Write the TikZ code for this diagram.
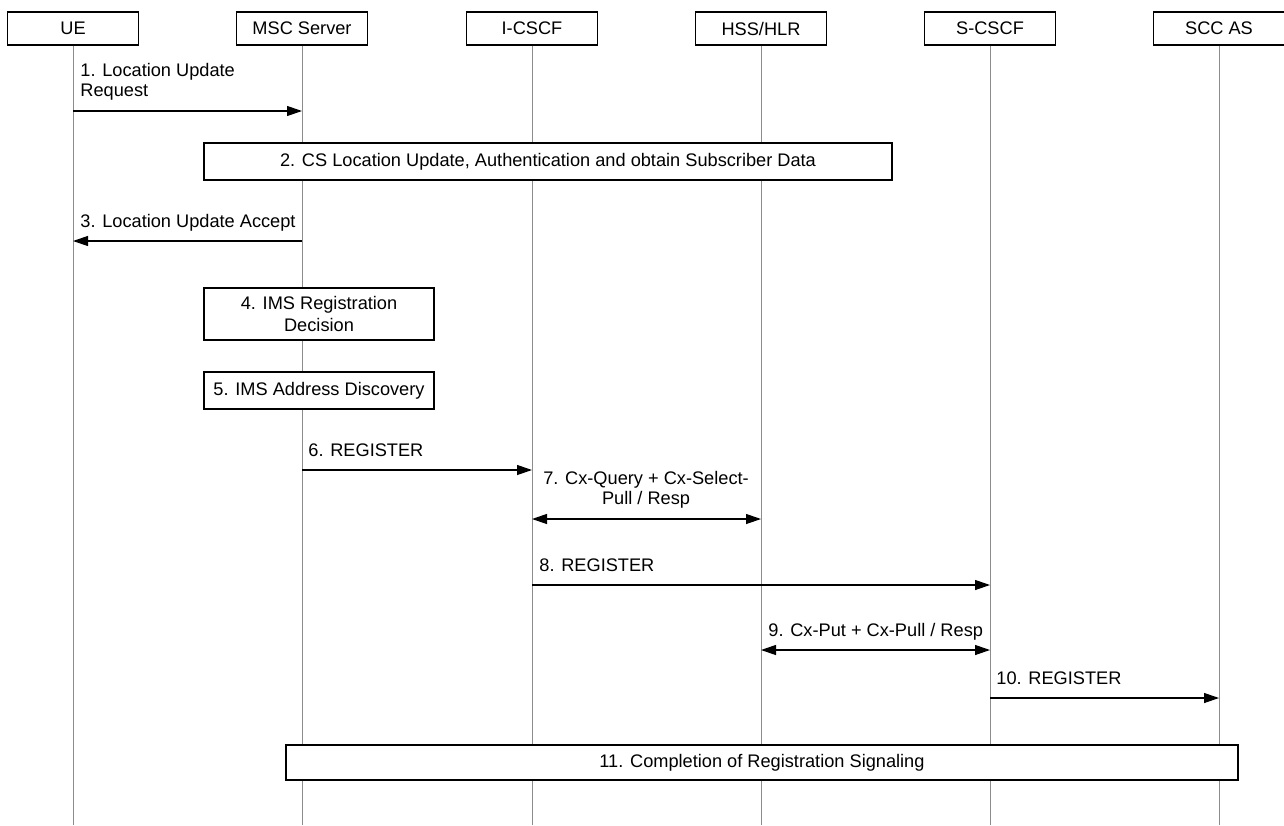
\documentclass[tikz,border=0pt]{standalone}
\usepackage{fontspec}
\setmainfont{Liberation Sans}
\usetikzlibrary{arrows.meta, positioning}

\begin{document}
\begin{tikzpicture}[x=0.5pt, y=-0.5pt,
					font=\fontsize{9.1}{10}\selectfont,
					entity/.style={draw, line width=0.6pt, fill=white, minimum width=65.5pt, minimum height=16.5pt, inner sep=0pt},
					life/.style={draw=black!45, line width=0.5pt},
					msg/.style={line width=0.6pt, -{Triangle[length=7.5pt, width=5pt]}},
					dmsg/.style={line width=0.6pt, {Triangle[length=7.5pt, width=5pt]}-{Triangle[length=7.5pt, width=5pt]}},
					stepbox/.style={draw, line width=0.6pt, fill=white, inner sep=0pt, align=center},
					lbl/.style={inner sep=0pt, text depth=0pt, anchor=south west, align=left}]

					\useasboundingbox (0,0) rectangle (1284,825);

					% entities
					\node[entity] (ue) at (73,28.5) {UE};
					\node[entity] (msc) at (302,28.5) {MSC Server};
					\node[entity] (icscf) at (532,28.5) {I-CSCF};
					\node[entity] (hss) at (761,28.5) {HSS/HLR};
					\node[entity] (scscf) at (990,28.5) {S-CSCF};
					\node[entity] (sccas) at (1219,28.5) {SCC AS};

					\coordinate (bot) at (0,825);
					\foreach \n in {ue,msc,icscf,hss,scscf,sccas}
						\draw[life] (\n.south) -- (\n |- bot);

					% message rows
					\coordinate (r1) at (0,111);
					\coordinate (r3) at (0,241);
					\coordinate (r6) at (0,470);
					\coordinate (r7) at (0,519);
					\coordinate (r8) at (0,585);
					\coordinate (r9) at (0,650);
					\coordinate (r10) at (0,698);

					\draw[msg] (ue |- r1) -- (msc |- r1);
					\node[lbl] (l1) at (80,97) {1. Location Update\\Request};

					\node[stepbox, minimum width=344pt, minimum height=18.5pt] (s2) at (548,161.5) {2. CS Location Update, Authentication and obtain Subscriber Data};

					\draw[msg] (msc |- r3) -- (ue |- r3);
					\node[lbl] (l3) at (80,228) {3. Location Update Accept};

					\node[stepbox, minimum width=115pt, minimum height=26pt, font=\fontsize{9.1}{11}\selectfont] (s4) at (319,314) {4. IMS Registration\\Decision};
					\node[stepbox, minimum width=115pt, minimum height=18.5pt] (s5) at (319,390.5) {5. IMS Address Discovery};

					\draw[msg] (msc |- r6) -- (icscf |- r6);
					\node[lbl] (l6) at (308,457) {6. REGISTER};

					\draw[dmsg] (icscf |- r7) -- (hss |- r7);
					\node[lbl, anchor=south, align=center] (l7) at (646,505) {7. Cx-Query + Cx-Select-\\Pull / Resp};

					\draw[msg] (icscf |- r8) -- (scscf |- r8);
					\node[lbl] (l8) at (539,572) {8. REGISTER};

					\draw[dmsg] (hss |- r9) -- (scscf |- r9);
					\node[lbl] (l9) at (768,637) {9. Cx-Put + Cx-Pull / Resp};

					\draw[msg] (scscf |- r10) -- (sccas |- r10);
					\node[lbl] (l10) at (996,685) {10. REGISTER};

					\node[stepbox, minimum width=476pt, minimum height=17.5pt] (s11) at (762,762.5) {11. Completion of Registration Signaling};
				\end{tikzpicture}
\end{document}
